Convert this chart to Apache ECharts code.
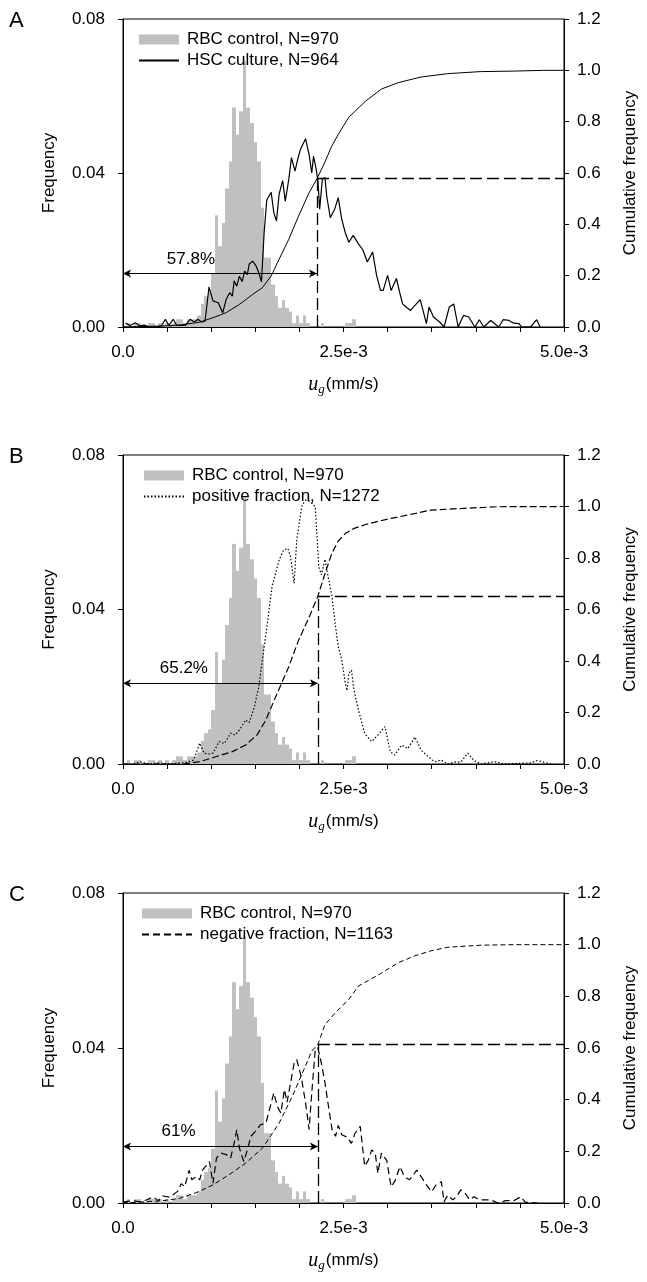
<!DOCTYPE html>
<html>
<head>
<meta charset="utf-8">
<title>u_g distributions</title>
<script src="https://cdn.jsdelivr.net/npm/echarts@6.0.0/dist/echarts.min.js"></script>
<style>
  html, body { margin: 0; padding: 0; background: #fff; }
  #chart { width: 647px; height: 1282px; }
</style>
</head>
<body>
<div id="chart"></div>
<script>
// all x values are in units of 1e-3 mm/s

// RBC control histogram, bins of width 0.04 starting at 0
const rbcBinWidth = 0.04;
const rbcFreq = [
  0, 0.001, 0, 0.001, 0.001, 0, 0, 0.001, 0.001, 0,
  0.001, 0, 0.001, 0, 0.001, 0.002, 0.002, 0.001, 0.002, 0.002,
  0.002, 0.003, 0.006, 0.008, 0.009, 0.014, 0.029, 0.021, 0.027, 0.036,
  0.043, 0.057, 0.050, 0.056, 0.069, 0.057, 0.053, 0.048, 0.043, 0.031,
  0.018, 0.018, 0.011, 0.008, 0.005, 0.007, 0.005, 0.004, 0.001, 0.003,
  0.001, 0.003, 0.001, 0, 0, 0, 0.001, 0, 0, 0,
  0, 0, 0, 0.001, 0.001, 0.002
];

// A: HSC culture
const hscX = [0.03, 0.08, 0.14, 0.19, 0.24, 0.30, 0.38, 0.44, 0.48, 0.52, 0.57, 0.61, 0.66, 0.71, 0.76, 0.81, 0.85, 0.89, 0.93,
  0.975, 1.02, 1.08, 1.13, 1.17, 1.21, 1.24, 1.26, 1.29, 1.32, 1.35, 1.38, 1.41, 1.43, 1.47, 1.51, 1.54, 1.57, 1.60, 1.63,
  1.68, 1.71, 1.74, 1.77, 1.81, 1.84, 1.88, 1.91, 1.95, 1.98, 2.01, 2.03, 2.07, 2.11, 2.14, 2.16, 2.19, 2.21, 2.23, 2.26,
  2.29, 2.31, 2.35, 2.40, 2.44, 2.48, 2.52, 2.56, 2.61, 2.67, 2.72, 2.77, 2.83, 2.875, 2.92, 2.95, 3.0, 3.04, 3.10, 3.14,
  3.17, 3.21, 3.26, 3.31, 3.37, 3.44, 3.47, 3.52, 3.59, 3.64, 3.70, 3.75, 3.80, 3.86, 3.92, 3.99, 4.04, 4.09, 4.17, 4.21,
  4.26, 4.31, 4.375, 4.43, 4.49, 4.52, 4.62, 4.69, 4.73];
const hscY = [0.001, 0.0004, 0.0011, 0.0003, 0.0005, 0, 0, 0.0004, 0.002, 0.0004, 0.002, 0.0004, 0.0004, 0.0005, 0.002, 0.0013, 0.002, 0.0013, 0.0015,
  0.0104, 0.0068, 0.0063, 0.0037, 0.0072, 0.0089, 0.008, 0.012, 0.0106, 0.0132, 0.0118, 0.0145, 0.0136, 0.0163, 0.0171, 0.0158, 0.0141, 0.0117, 0.0245, 0.033,
  0.035, 0.0297, 0.0275, 0.0345, 0.038, 0.0327, 0.0384, 0.044, 0.0405, 0.0435, 0.046, 0.047, 0.0489, 0.0448, 0.040, 0.0444, 0.041, 0.038, 0.0306, 0.0384,
  0.0388, 0.034, 0.0284, 0.0306, 0.0336, 0.028, 0.0245, 0.022, 0.0238, 0.0216, 0.020, 0.0169, 0.0195, 0.0134, 0.0095, 0.0095, 0.0134, 0.0095, 0.0126, 0.0087,
  0.006, 0.0052, 0.0043, 0.0056, 0.0071, 0.0009, 0.0052, 0.0026, 0.0013, 0, 0.0052, 0.006, 0, 0.003, 0.0026, 0, 0.0019, 0, 0.0017, 0.0009,
  0, 0.0019, 0.0017, 0.001, 0.0009, 0, 0, 0.0019, 0];
const hscCumX = [0, 0.45, 0.66, 0.87, 1.02, 1.17, 1.32, 1.47, 1.58, 1.68, 1.77, 1.88, 1.99, 2.11, 2.2, 2.29, 2.36, 2.44, 2.56, 2.75, 2.93, 3.12, 3.38, 3.68, 4.05, 4.43, 4.77, 5.0];
const hscCumY = [0, 0.004, 0.008, 0.019, 0.036, 0.056, 0.088, 0.127, 0.153, 0.199, 0.264, 0.342, 0.432, 0.523, 0.578, 0.643, 0.70, 0.75, 0.817, 0.88, 0.927, 0.952, 0.974, 0.987, 0.995, 0.997, 1.0, 1.0];

// B: positive fraction
const posX = [0.0, 0.1, 0.2, 0.3, 0.4, 0.5, 0.6, 0.7, 0.8, 0.87, 0.92, 0.97, 1.02, 1.09, 1.15, 1.22, 1.27, 1.32, 1.39, 1.43,
  1.49, 1.54, 1.58, 1.64, 1.69, 1.77, 1.82, 1.87, 1.90, 1.94, 1.97, 2.03, 2.07, 2.12, 2.18, 2.22, 2.25, 2.29, 2.33, 2.37,
  2.41, 2.44, 2.48, 2.52, 2.54, 2.56, 2.59, 2.62, 2.67, 2.74, 2.82, 2.89, 2.97, 3.03, 3.08, 3.16, 3.23, 3.31, 3.38, 3.46,
  3.53, 3.61, 3.68, 3.76, 3.83, 3.91, 3.98, 4.06, 4.21, 4.32, 4.62, 4.70, 4.77, 4.85];
const posY = [0, 0, 0.0005, 0, 0.0003, 0, 0.0002, 0.0003, 0.001, 0.0054, 0.0028, 0.0026, 0.0028, 0.0058, 0.0053, 0.008, 0.0075, 0.0088, 0.0114, 0.0107,
  0.0148, 0.020, 0.027, 0.037, 0.046, 0.0528, 0.0554, 0.0558, 0.0537, 0.0468, 0.058, 0.067, 0.0683, 0.068, 0.0666, 0.051, 0.049, 0.053, 0.048, 0.0433,
  0.0356, 0.0304, 0.027, 0.0209, 0.019, 0.0235, 0.0243, 0.019, 0.014, 0.0079, 0.0058, 0.0075, 0.0097, 0.0032, 0.0023, 0.0049, 0.004, 0.007, 0.0036, 0.0019,
  0.0006, 0.001, 0, 0.0005, 0.0005, 0.0028, 0.0009, 0, 0.0006, 0, 0.0003, 0.0009, 0.0005, 0];
const posCumX = [0, 0.68, 0.87, 1.05, 1.24, 1.39, 1.52, 1.62, 1.73, 1.88, 1.99, 2.11, 2.21, 2.29, 2.37, 2.44, 2.52, 2.62, 2.75, 2.89, 3.04, 3.23, 3.49, 3.87, 4.24, 5.0];
const posCumY = [0, 0, 0.009, 0.028, 0.048, 0.074, 0.113, 0.171, 0.26, 0.378, 0.48, 0.57, 0.652, 0.74, 0.82, 0.865, 0.895, 0.915, 0.93, 0.942, 0.954, 0.967, 0.986, 0.993, 0.999, 1.0];

// C: negative fraction
const negX = [0.0, 0.12, 0.19, 0.27, 0.34, 0.40, 0.45, 0.53, 0.62, 0.66, 0.70, 0.75, 0.78, 0.83, 0.87, 0.90, 0.95, 0.98, 1.02, 1.06,
  1.11, 1.17, 1.22, 1.26, 1.29, 1.32, 1.35, 1.37, 1.41, 1.45, 1.50, 1.56, 1.62, 1.67, 1.71, 1.75, 1.79, 1.83, 1.86, 1.90,
  1.94, 1.97, 2.02, 2.07, 2.11, 2.14, 2.18, 2.21, 2.25, 2.29, 2.33, 2.37, 2.41, 2.44, 2.48, 2.54, 2.59, 2.63, 2.69, 2.74,
  2.78, 2.82, 2.86, 2.89, 2.93, 2.99, 3.04, 3.08, 3.14, 3.19, 3.25, 3.29, 3.33, 3.38, 3.44, 3.50, 3.55, 3.61, 3.64, 3.68,
  3.74, 3.78, 3.83, 3.88, 3.93, 3.98, 4.04, 4.17, 4.25, 4.34, 4.43, 4.51, 4.56, 4.70];
const negY = [0.0003, 0.0006, 0.0003, 0.0008, 0.0016, 0.0006, 0.0018, 0.0015, 0.003, 0.005, 0.0042, 0.0085, 0.006, 0.0068, 0.006, 0.0085, 0.0098, 0.0107, 0.0051, 0.0116,
  0.0129, 0.0125, 0.0116, 0.0154, 0.0189, 0.0142, 0.012, 0.0107, 0.0137, 0.0172, 0.0185, 0.0202, 0.0206, 0.0249, 0.0284, 0.0249, 0.0232, 0.0293, 0.026, 0.031,
  0.036, 0.037, 0.0327, 0.0258, 0.019, 0.0284, 0.0396, 0.040, 0.036, 0.031, 0.0249, 0.019, 0.0172, 0.020, 0.0176, 0.017, 0.0154, 0.018, 0.0198, 0.0095,
  0.011, 0.0137, 0.0128, 0.0077, 0.0129, 0.011, 0.0042, 0.0055, 0.0094, 0.0068, 0.006, 0.0072, 0.0085, 0.0068, 0.0047, 0.0029, 0.0047, 0.0055, 0.0003, 0.002,
  0.0008, 0.0016, 0.0034, 0.0025, 0.0008, 0.0016, 0.0008, 0.0008, 0, 0.0006, 0.0006, 0.0016, 0.0002, 0];
const negCumX = [0, 0.45, 0.64, 0.83, 1.02, 1.20, 1.39, 1.58, 1.77, 1.92, 2.03, 2.14, 2.21, 2.29, 2.41, 2.56, 2.67, 2.93, 3.12, 3.31, 3.49, 3.68, 4.06, 4.43, 5.0];
const negCumY = [0, 0.009, 0.018, 0.04, 0.07, 0.109, 0.154, 0.212, 0.309, 0.413, 0.50, 0.588, 0.614, 0.691, 0.737, 0.788, 0.84, 0.89, 0.93, 0.957, 0.976, 0.99, 0.998, 1.0, 1.0];

// per panel annotations
const panelLetters = ['A', 'B', 'C'];
const rbcName = 'RBC control, N=970';
const lineNames = ['HSC culture, N=964', 'positive fraction, N=1272', 'negative fraction, N=1163'];
const cutX = [2.2, 2.21, 2.21];
const cutCum = [0.578, 0.652, 0.614];
const pctText = ['57.8%', '65.2%', '61%'];
const pctTextX = [0.77, 0.69, 0.63];
const pctTextY = [0.0177, 0.0248, 0.0185];
const arrowY = [0.0139, 0.0209, 0.0146];

const freqSets = [[hscX, hscY], [posX, posY], [negX, negY]];
const cumSets = [[hscCumX, hscCumY], [posCumX, posCumY], [negCumX, negCumY]];

const zip = (xs, ys) => xs.map((x, i) => [x, ys[i]]);
const font = 'Liberation Sans, Arial, sans-serif';

const gridTops = [19, 455, 893];
const gridHeights = [308, 309, 310];
const freqLine = [
  { type: 'solid', width: 1.2 },
  { type: [1.5, 2], width: 1.2 },
  { type: [7, 4], width: 1.2 }
];
const cumLine = [
  { type: 'solid', width: 1 },
  { type: [7, 3], width: 1.2 },
  { type: [5, 3], width: 1 }
];
const legendLeft = [133, 138, 136];
const legendIconW = [40, 40, 50];

const histData = rbcFreq.map((f, k) => [k * rbcBinWidth, (k + 1) * rbcBinWidth, f]);

const chart = echarts.init(document.getElementById('chart'), null, { renderer: 'canvas' });

const grid = [], xAxis = [], yAxis = [], series = [], legend = [], title = [];

for (let i = 0; i < 3; i++) {
  grid.push({
    left: 123, right: 80, top: gridTops[i], height: gridHeights[i],
    show: true, borderColor: '#000', borderWidth: 1, backgroundColor: 'transparent'
  });
  title.push({
    text: panelLetters[i], left: 4, top: gridTops[i] - 14,
    textStyle: { fontFamily: font, fontSize: 22, fontWeight: 'normal', color: '#000' }
  });
  xAxis.push({
    type: 'value', gridIndex: i, min: 0, max: 5, interval: 0.5,
    name: '{u|u}{g|g}{n|(mm/s)}', nameLocation: 'middle', nameGap: 46,
    nameTextStyle: {
      rich: {
        u: { fontFamily: 'Liberation Serif, serif', fontStyle: 'italic', fontSize: 20, color: '#000' },
        g: { fontFamily: 'Liberation Serif, serif', fontStyle: 'italic', fontSize: 13, color: '#000', padding: [10, 1, 0, 0] },
        n: { fontFamily: font, fontSize: 17, color: '#000' }
      }
    },
    axisLine: { lineStyle: { color: '#000', width: 1 } },
    axisTick: { show: true, inside: false, length: 5, lineStyle: { color: '#000' } },
    splitLine: { show: false },
    axisLabel: {
      margin: 17, color: '#000', fontFamily: font, fontSize: 17,
      formatter: v => Math.abs(v) < 1e-9 ? '0.0' : Math.abs(v - 2.5) < 1e-9 ? '2.5e-3' : Math.abs(v - 5) < 1e-9 ? '5.0e-3' : ''
    }
  });
  yAxis.push({
    type: 'value', gridIndex: i, min: 0, max: 0.08, interval: 0.04, position: 'left',
    name: 'Frequency', nameLocation: 'middle', nameGap: 65,
    nameTextStyle: { fontFamily: font, fontSize: 17, color: '#000' },
    axisLine: { show: true, lineStyle: { color: '#000' } },
    axisTick: { show: true, length: 5, lineStyle: { color: '#000' } },
    splitLine: { show: false },
    axisLabel: { margin: 18, color: '#000', fontFamily: font, fontSize: 17, formatter: v => v.toFixed(2) }
  });
  yAxis.push({
    type: 'value', gridIndex: i, min: 0, max: 1.2, interval: 0.2, position: 'right',
    name: 'Cumulative frequency', nameLocation: 'middle', nameGap: 58,
    nameTextStyle: { fontFamily: font, fontSize: 17, color: '#000' },
    axisLine: { show: true, lineStyle: { color: '#000' } },
    axisTick: { show: true, length: 5, lineStyle: { color: '#000' } },
    splitLine: { show: false },
    axisLabel: { margin: 13, color: '#000', fontFamily: font, fontSize: 17, formatter: v => v.toFixed(1) }
  });

  series.push({
    name: rbcName, type: 'custom', xAxisIndex: i, yAxisIndex: 2 * i,
    itemStyle: { color: '#c0c0c0' },
    encode: { x: [0, 1], y: 2 },
    data: histData,
    renderItem(params, api) {
      // snap bin edges to whole pixels so neighbouring bars touch without seams
      const p0 = api.coord([api.value(0), api.value(2)]);
      const p1 = api.coord([api.value(1), 0]);
      const x0 = Math.round(p0[0]), x1 = Math.round(p1[0]);
      return {
        type: 'rect',
        shape: { x: x0, y: p0[1], width: x1 - x0, height: p1[1] - p0[1] },
        style: { fill: '#c0c0c0' }
      };
    }
  });

  series.push({
    name: lineNames[i], type: 'line', xAxisIndex: i, yAxisIndex: 2 * i,
    symbol: 'none', color: '#000',
    lineStyle: Object.assign({ color: '#000' }, freqLine[i]),
    data: zip(freqSets[i][0], freqSets[i][1]),
    markLine: {
      silent: true, symbol: ['arrow', 'arrow'], symbolSize: [6, 8],
      lineStyle: { color: '#000', type: 'solid', width: 1 },
      label: { show: false },
      data: [[{ coord: [0, arrowY[i]] }, { coord: [cutX[i], arrowY[i]] }]]
    },
    markPoint: {
      silent: true, symbol: 'rect', symbolSize: 1,
      itemStyle: { color: 'rgba(0,0,0,0)' },
      label: { show: true, position: 'inside', formatter: '{b}', color: '#000', fontFamily: font, fontSize: 17 },
      data: [{ name: pctText[i], coord: [pctTextX[i], pctTextY[i]] }]
    }
  });

  series.push({
    name: 'cumulative ' + panelLetters[i], type: 'line', xAxisIndex: i, yAxisIndex: 2 * i + 1,
    symbol: 'none', color: '#000',
    lineStyle: Object.assign({ color: '#000' }, cumLine[i]),
    data: zip(cumSets[i][0], cumSets[i][1]),
    markLine: {
      silent: true, symbol: 'none',
      lineStyle: { color: '#000', type: [12, 5], width: 1.3 },
      label: { show: false },
      data: [
        [{ coord: [cutX[i], 0] }, { coord: [cutX[i], cutCum[i]] }],
        [{ coord: [cutX[i], cutCum[i]] }, { coord: [5, cutCum[i]] }]
      ]
    }
  });

  legend.push({
    orient: 'vertical', left: legendLeft[i], top: gridTops[i] + 7,
    itemWidth: legendIconW[i], itemHeight: 10, itemGap: 4,
    selectedMode: false,
    textStyle: { fontFamily: font, fontSize: 17, color: '#000', lineHeight: 17, padding: [0, 0, 0, 3] },
    data: [
      { name: rbcName, icon: 'rect', itemStyle: { color: '#c0c0c0' } },
      { name: lineNames[i], itemStyle: { opacity: 0 } }
    ]
  });
}

chart.setOption({
  animation: false,
  backgroundColor: '#fff',
  title, grid, xAxis, yAxis, legend, series
});
</script>
</body>
</html>
